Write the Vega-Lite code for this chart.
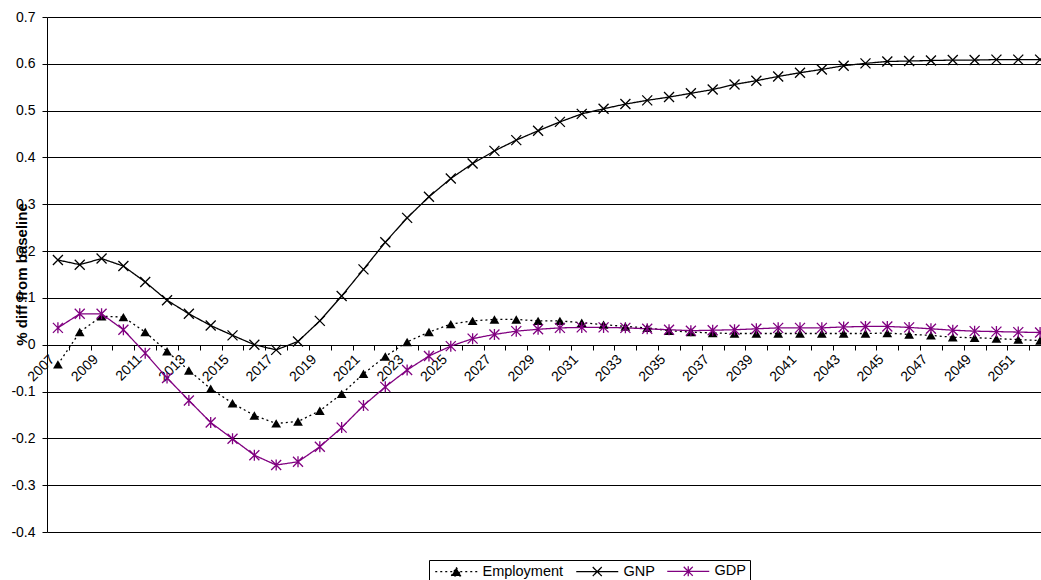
{
  "$schema": "https://vega.github.io/schema/vega-lite/v6.json",
  "width": 994,
  "height": 515,
  "autosize": {"type": "none"},
  "padding": {"left": 47, "top": 17, "right": 0, "bottom": 48},
  "background": "white",
  "config": {
    "view": {"stroke": null},
    "font": "Liberation Sans"
  },
  "data": {
    "values": [
      {"year": 2007, "Employment": -0.042, "GNP": 0.181, "GDP": 0.036},
      {"year": 2008, "Employment": 0.027, "GNP": 0.171, "GDP": 0.066},
      {"year": 2009, "Employment": 0.061, "GNP": 0.184, "GDP": 0.066},
      {"year": 2010, "Employment": 0.059, "GNP": 0.168, "GDP": 0.032},
      {"year": 2011, "Employment": 0.027, "GNP": 0.134, "GDP": -0.018},
      {"year": 2012, "Employment": -0.014, "GNP": 0.095, "GDP": -0.071},
      {"year": 2013, "Employment": -0.055, "GNP": 0.066, "GDP": -0.119},
      {"year": 2014, "Employment": -0.094, "GNP": 0.041, "GDP": -0.166},
      {"year": 2015, "Employment": -0.125, "GNP": 0.020, "GDP": -0.201},
      {"year": 2016, "Employment": -0.151, "GNP": 0.000, "GDP": -0.236},
      {"year": 2017, "Employment": -0.168, "GNP": -0.011, "GDP": -0.257},
      {"year": 2018, "Employment": -0.164, "GNP": 0.007, "GDP": -0.250},
      {"year": 2019, "Employment": -0.141, "GNP": 0.051, "GDP": -0.218},
      {"year": 2020, "Employment": -0.105, "GNP": 0.104, "GDP": -0.177},
      {"year": 2021, "Employment": -0.062, "GNP": 0.161, "GDP": -0.130},
      {"year": 2022, "Employment": -0.025, "GNP": 0.219, "GDP": -0.090},
      {"year": 2023, "Employment": 0.006, "GNP": 0.271, "GDP": -0.054},
      {"year": 2024, "Employment": 0.027, "GNP": 0.316, "GDP": -0.024},
      {"year": 2025, "Employment": 0.044, "GNP": 0.355, "GDP": -0.003},
      {"year": 2026, "Employment": 0.051, "GNP": 0.387, "GDP": 0.013},
      {"year": 2027, "Employment": 0.054, "GNP": 0.414, "GDP": 0.022},
      {"year": 2028, "Employment": 0.054, "GNP": 0.437, "GDP": 0.029},
      {"year": 2029, "Employment": 0.051, "GNP": 0.457, "GDP": 0.033},
      {"year": 2030, "Employment": 0.051, "GNP": 0.476, "GDP": 0.036},
      {"year": 2031, "Employment": 0.047, "GNP": 0.493, "GDP": 0.037},
      {"year": 2032, "Employment": 0.043, "GNP": 0.504, "GDP": 0.037},
      {"year": 2033, "Employment": 0.039, "GNP": 0.514, "GDP": 0.036},
      {"year": 2034, "Employment": 0.036, "GNP": 0.522, "GDP": 0.034},
      {"year": 2035, "Employment": 0.030, "GNP": 0.529, "GDP": 0.032},
      {"year": 2036, "Employment": 0.027, "GNP": 0.537, "GDP": 0.030},
      {"year": 2037, "Employment": 0.025, "GNP": 0.545, "GDP": 0.031},
      {"year": 2038, "Employment": 0.024, "GNP": 0.556, "GDP": 0.032},
      {"year": 2039, "Employment": 0.024, "GNP": 0.564, "GDP": 0.034},
      {"year": 2040, "Employment": 0.024, "GNP": 0.573, "GDP": 0.036},
      {"year": 2041, "Employment": 0.024, "GNP": 0.581, "GDP": 0.036},
      {"year": 2042, "Employment": 0.024, "GNP": 0.588, "GDP": 0.036},
      {"year": 2043, "Employment": 0.024, "GNP": 0.596, "GDP": 0.038},
      {"year": 2044, "Employment": 0.024, "GNP": 0.601, "GDP": 0.039},
      {"year": 2045, "Employment": 0.025, "GNP": 0.605, "GDP": 0.039},
      {"year": 2046, "Employment": 0.022, "GNP": 0.606, "GDP": 0.037},
      {"year": 2047, "Employment": 0.020, "GNP": 0.607, "GDP": 0.034},
      {"year": 2048, "Employment": 0.016, "GNP": 0.608, "GDP": 0.031},
      {"year": 2049, "Employment": 0.015, "GNP": 0.608, "GDP": 0.029},
      {"year": 2050, "Employment": 0.013, "GNP": 0.609, "GDP": 0.028},
      {"year": 2051, "Employment": 0.011, "GNP": 0.609, "GDP": 0.027},
      {"year": 2052, "Employment": 0.009, "GNP": 0.609, "GDP": 0.026}
    ]
  },
  "transform": [
    {"fold": ["Employment", "GNP", "GDP"], "as": ["series", "value"]}
  ],
  "encoding": {
    "x": {
      "field": "year",
      "type": "ordinal",
      "bandPosition": 0.5,
      "scale": {"type": "band", "range": [0, 1004], "paddingInner": 0, "paddingOuter": 0},
      "axis": {
        "title": null,
        "orient": "bottom",
        "offset": -187,
        "grid": false,
        "tickBand": "extent",
        "domainColor": "#000",
        "domainWidth": 1,
        "tickColor": "#000",
        "tickSize": 5,
        "labelAngle": -45,
        "labelAlign": "right",
        "labelBaseline": "middle",
        "labelPadding": 7,
        "labelOffset": -6,
        "labelFontSize": 14,
        "labelColor": "#000",
        "labelOverlap": false,
        "labelExpr": "(datum.value - 2007) % 2 == 0 ? datum.label : ''"
      }
    },
    "y": {
      "field": "value",
      "type": "quantitative",
      "scale": {"domain": [-0.4, 0.7], "nice": false, "zero": false},
      "axis": {
        "values": [-0.4, -0.3, -0.2, -0.1, 0, 0.1, 0.2, 0.3, 0.4, 0.5, 0.6, 0.7],
        "grid": true,
        "gridColor": "#000",
        "gridWidth": 1,
        "gridOpacity": 1,
        "domainColor": "#000",
        "tickColor": "#000",
        "tickSize": 5,
        "labelPadding": 7,
        "labelFontSize": 14,
        "labelColor": "#000",
        "labelExpr": "replace(format(datum.value, '.1~f'), '\u2212', '-')",
        "title": "% diff from baseline",
        "titleFontSize": 15,
        "titleFontWeight": "bold",
        "titleColor": "#000",
        "titleX": -26,
        "titleY": 257,
        "titleAlign": "center",
        "titleBaseline": "middle"
      }
    },
    "color": {
      "field": "series",
      "type": "nominal",
      "scale": {"domain": ["Employment", "GNP", "GDP"], "range": ["#000000", "#000000", "#800080"]},
      "legend": {
        "title": null,
        "orient": "none",
        "legendX": 382,
        "legendY": 543,
        "direction": "horizontal",
        "strokeColor": "#000",
        "fillColor": "white",
        "padding": 4,
        "labelFontSize": 14.5,
        "labelColor": "#000",
        "labelFont": "Liberation Sans",
        "symbolSize": 100,
        "symbolOffset": 16,
        "labelOffset": 19,
        "columnPadding": 9,
        "encode": {
          "symbols": {
            "update": {
              "shape": {"signal": "datum.value == 'Employment' ? 'M-4.2,0L4.2,0M0,-0.85L1,0.85L-1,0.85Z' : datum.value == 'GNP' ? 'M-4.2,0L4.2,0M-0.9,-0.9L0.9,0.9M-0.9,0.9L0.9,-0.9' : 'M-4.2,0L4.2,0M-0.9,-0.9L0.9,0.9M-0.9,0.9L0.9,-0.9M0,-1L0,1'"},
              "stroke": {"signal": "datum.value == 'GDP' ? '#800080' : '#000000'"},
              "fill": {"signal": "datum.value == 'Employment' ? '#000000' : 'transparent'"},
              "strokeDash": {"signal": "datum.value == 'Employment' ? [2, 3] : [1, 0]"},
              "strokeWidth": {"value": 1.3},
              "opacity": {"value": 1},
              "size": {"value": 100}
            }
          }
        }
      }
    }
  },
  "layer": [
    {
      "mark": {"type": "line", "strokeWidth": 1.3},
      "encoding": {
        "strokeDash": {
          "field": "series",
          "type": "nominal",
          "scale": {"domain": ["Employment", "GNP", "GDP"], "range": [[2, 3], [1, 0], [1, 0]]},
          "legend": null
        }
      }
    },
    {
      "transform": [{"filter": "datum.series == 'Employment'"}],
      "mark": {"type": "point", "filled": true, "shape": "triangle-up", "size": 95, "opacity": 1}
    },
    {
      "transform": [{"filter": "datum.series != 'Employment'"}],
      "mark": {"type": "point", "filled": false, "size": 100, "strokeWidth": 1.3, "opacity": 1},
      "encoding": {
        "shape": {
          "field": "series",
          "type": "nominal",
          "scale": {"domain": ["GNP", "GDP"], "range": ["M-1,-1L1,1M-1,1L1,-1", "M-1,-1L1,1M-1,1L1,-1M0,-1.1L0,1.1"]},
          "legend": null
        }
      }
    }
  ]
}
